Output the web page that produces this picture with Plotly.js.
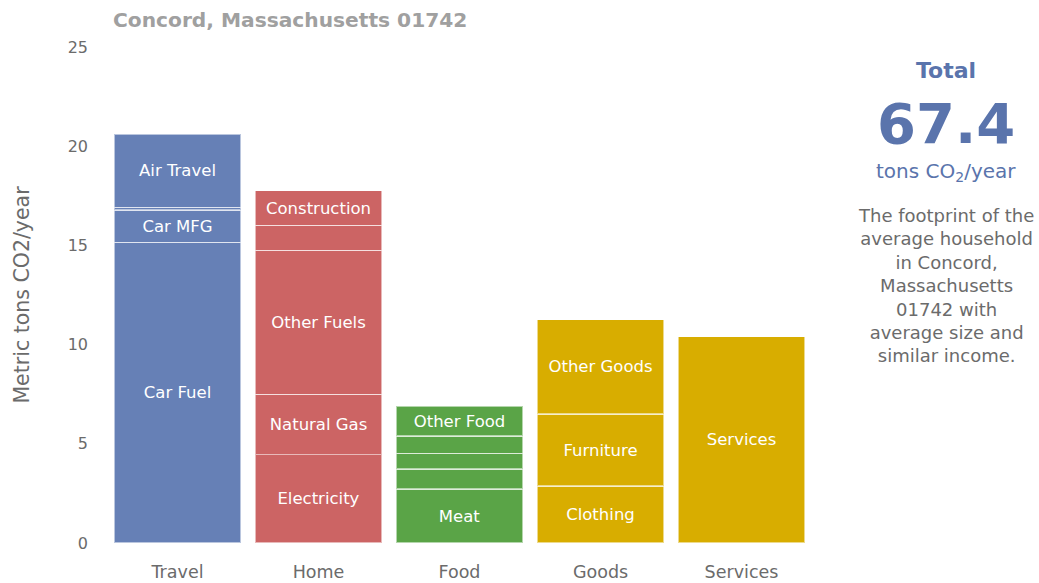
<!DOCTYPE html>
<html>
<head>
<meta charset="utf-8">
<script src="https://cdn.plot.ly/plotly-3.0.1.min.js"></script>
<style>
  html, body { margin: 0; padding: 0; background: #fff; }
  #chart { width: 1039px; height: 583px; }
</style>
</head>
<body>
<div id="chart"></div>
<script>
// ---- Data (metric tons CO2 / year) ----
const categories = ['Travel', 'Home', 'Food', 'Goods', 'Services'];

const travelNames  = ['Car Fuel', 'Car MFG', 'Public Transit', 'Air Travel'];
const travelLabels = ['Car Fuel', 'Car MFG', '', 'Air Travel'];
const travelValues = [15.15, 1.63, 0.15, 3.67];

const homeNames  = ['Electricity', 'Natural Gas', 'Other Fuels', 'Water & Waste', 'Construction'];
const homeLabels = ['Electricity', 'Natural Gas', 'Other Fuels', '', 'Construction'];
const homeValues = [4.46, 3.03, 7.27, 1.25, 1.74];

const foodNames  = ['Meat', 'Dairy', 'Fruit & Vegetables', 'Cereals', 'Other Food'];
const foodLabels = ['Meat', '', '', '', 'Other Food'];
const foodValues = [2.72, 1.01, 0.80, 0.86, 1.51];

const goodsNames  = ['Clothing', 'Furniture', 'Other Goods'];
const goodsLabels = ['Clothing', 'Furniture', 'Other Goods'];
const goodsValues = [2.87, 3.63, 4.75];

const servicesNames  = ['Services'];
const servicesLabels = ['Services'];
const servicesValues = [10.40];

const totalText = '67.4';
const titleText = 'Concord, Massachusetts 01742';
const descLines = ['The footprint of the', 'average household', 'in Concord,', 'Massachusetts', '01742 with', 'average size and', 'similar income.'];

const colors = {
  Travel: '#6680b6',
  Home: '#cc6464',
  Food: '#5aa447',
  Goods: '#d8ad00',
  Services: '#d8ad00'
};

const groups = [
  {cat: 'Travel', names: travelNames, labels: travelLabels, values: travelValues},
  {cat: 'Home', names: homeNames, labels: homeLabels, values: homeValues},
  {cat: 'Food', names: foodNames, labels: foodLabels, values: foodValues},
  {cat: 'Goods', names: goodsNames, labels: goodsLabels, values: goodsValues},
  {cat: 'Services', names: servicesNames, labels: servicesLabels, values: servicesValues}
];

const traces = [];
groups.forEach(g => {
  g.values.forEach((v, i) => {
    const t = {
      type: 'bar',
      x: [g.cat],
      y: [v],
      name: g.names[i],
      marker: {color: colors[g.cat], line: {color: 'rgba(255,255,255,0.55)', width: 1.2}},
      hoverinfo: 'name+y',
      showlegend: false
    };
    if (g.labels[i]) {
      t.text = [g.labels[i]];
      t.textposition = 'inside';
      t.insidetextanchor = 'middle';
      t.textangle = 0;
      t.constraintext = 'none';
      t.textfont = {family: 'DejaVu Sans', size: 16.5, color: '#ffffff'};
    } else {
      t.textposition = 'none';
    }
    traces.push(t);
  });
});

const gray = '#6b6b6b';
const blue = '#5a74ac';

const annotations = [
  {text: '<b>' + titleText + '</b>', xref: 'paper', yref: 'paper', x: 0.006, y: 1.055, xanchor: 'left', yanchor: 'middle',
   showarrow: false, font: {family: 'DejaVu Sans', size: 20.2, color: '#a0a0a0'}},
  {text: '<b>Total</b>', xref: 'paper', yref: 'paper', x: 1.19, y: 0.953, xanchor: 'center', yanchor: 'middle',
   showarrow: false, font: {family: 'DejaVu Sans', size: 22, color: blue}},
  {text: '<b>' + totalText + '</b>', xref: 'paper', yref: 'paper', x: 1.19, y: 0.845, xanchor: 'center', yanchor: 'middle',
   showarrow: false, font: {family: 'DejaVu Sans', size: 56, color: blue}},
  {text: 'tons CO<sub>2</sub>/year', xref: 'paper', yref: 'paper', x: 1.19, y: 0.748, xanchor: 'center', yanchor: 'middle',
   showarrow: false, font: {family: 'DejaVu Sans', size: 20, color: blue}},
  {text: descLines.join('<br>'), xref: 'paper', yref: 'paper', x: 1.19, y: 0.52, xanchor: 'center', yanchor: 'middle',
   align: 'center', showarrow: false, font: {family: 'DejaVu Sans', size: 18, color: gray}}
];

const layout = {
  width: 1039, height: 583,
  margin: {l: 107, r: 227, t: 47, b: 40},
  paper_bgcolor: '#ffffff', plot_bgcolor: '#ffffff',
  barmode: 'stack',
  bargap: 0.105,
  showlegend: false,
  xaxis: {
    type: 'category', categoryarray: categories, categoryorder: 'array',
    range: [-0.5, 4.5],
    showgrid: false, zeroline: false, showline: false, ticks: '',
    ticklabelstandoff: 16,
    tickfont: {family: 'DejaVu Sans', size: 17.5, color: gray}
  },
  yaxis: {
    range: [0, 25], tickvals: [0, 5, 10, 15, 20, 25],
    showgrid: false, zeroline: false, showline: false, ticks: '',
    tickfont: {family: 'DejaVu Sans', size: 16, color: gray},
    ticklabelstandoff: 18,
    title: {text: 'Metric tons CO2/year', standoff: 32, font: {family: 'DejaVu Sans', size: 20.5, color: gray}}
  },
  annotations: annotations,
  hovermode: 'closest'
};

Plotly.newPlot('chart', traces, layout, {displayModeBar: false});
</script>
</body>
</html>
